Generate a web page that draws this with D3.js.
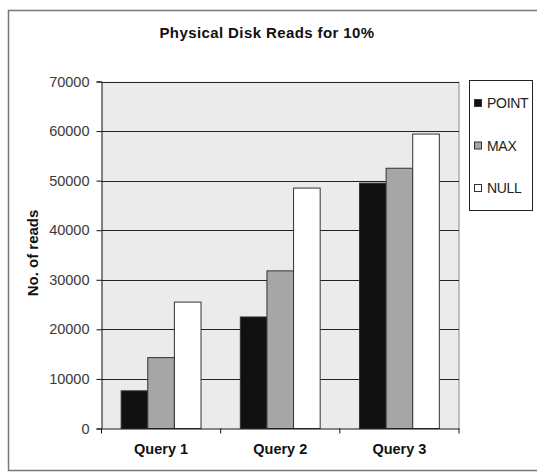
<!DOCTYPE html>
<html><head><meta charset="utf-8">
<script src="https://cdn.jsdelivr.net/npm/d3@7/dist/d3.min.js"></script>
<style>body{margin:0;background:#fff;}svg{display:block;font-family:"Liberation Sans",Arial,sans-serif;}</style>
</head><body><svg id="c" width="537" height="472"></svg>
<script>
const categories = ["Query 1", "Query 2", "Query 3"];
const seriesNames = ["POINT", "MAX", "NULL"];
const seriesColors = ["#111111", "#a6a6a6", "#ffffff"];
const pointValues = [7600, 22500, 49500];
const maxValues = [14300, 31800, 52500];
const nullValues = [25500, 48500, 59400];
const yTicks = [0, 10000, 20000, 30000, 40000, 50000, 60000, 70000];
const titleText = "Physical Disk Reads for 10%";
const yTitle = "No. of reads";

const series = [pointValues, maxValues, nullValues];
const svg = d3.select("#c");
const FF = "'Liberation Sans',Arial,sans-serif";

// outer border
svg.append("rect").attr("x", 8.5).attr("y", 10.5).attr("width", 540).attr("height", 460)
  .attr("fill", "#fff").attr("stroke", "#777").attr("stroke-width", 1.5);

const L = 101.5, R = 459, T = 81.5, B = 428.5;
const x = d3.scaleBand().domain(categories).range([L, R]).paddingInner(0.33).paddingOuter(0.165);
const xs = d3.scaleBand().domain(seriesNames).range([0, x.bandwidth()]);
const y = d3.scaleLinear().domain([0, 70000]).range([B, T]);

// plot background
svg.append("rect").attr("x", L).attr("y", T).attr("width", R - L).attr("height", B - T)
  .attr("fill", "#ebebeb");
svg.append("line").attr("x1", R).attr("x2", R).attr("y1", T).attr("y2", B).attr("stroke", "#888");

// gridlines
svg.append("g").selectAll("line").data(yTicks.filter(d => d > 0)).join("line")
  .attr("x1", L).attr("x2", R).attr("y1", d => Math.round(y(d)) + 0.5).attr("y2", d => Math.round(y(d)) + 0.5)
  .attr("stroke", "#222").attr("stroke-width", 1);

// bars
const groups = svg.append("g").selectAll("g").data(seriesNames).join("g")
  .attr("fill", (d, i) => seriesColors[i]);
groups.each(function(name, si) {
  d3.select(this).selectAll("rect").data(series[si]).join("rect")
    .attr("x", (d, i) => x(categories[i]) + xs(name))
    .attr("y", d => y(d))
    .attr("width", xs.bandwidth())
    .attr("height", d => B - y(d))
    .attr("stroke", "#333").attr("stroke-width", 1);
});

// y axis
const yAxis = d3.axisLeft(y).tickValues(yTicks).tickSize(5).tickPadding(7).tickFormat(d3.format("d"));
const yg = svg.append("g").attr("transform", `translate(${L},0)`).call(yAxis);
yg.select(".domain").attr("stroke", "#111");
yg.selectAll(".tick line").attr("stroke", "#111");
yg.selectAll("text").attr("font-size", 14.5).attr("fill", "#3a3a3a").attr("font-family", FF);

// x axis
const xAxis = d3.axisBottom(x).tickSize(0).tickPadding(0);
const xg = svg.append("g").attr("transform", `translate(0,${B})`).call(xAxis);
xg.select(".domain").attr("stroke", "#111");
xg.selectAll("text").attr("dy", "1.75em").attr("font-size", 14.5).attr("font-weight", "bold").attr("fill", "#111")
  .attr("font-family", FF);
const sepPositions = categories.map(c => x(c) - x.step() * x.paddingInner() / 2).concat([R]);
svg.append("g").selectAll("line").data(sepPositions).join("line")
  .attr("x1", d => d).attr("x2", d => d).attr("y1", B).attr("y2", B + 5).attr("stroke", "#111");

// title
svg.append("text").attr("x", 267).attr("y", 38).attr("text-anchor", "middle")
  .attr("font-size", 15).attr("font-weight", "bold").attr("fill", "#111").attr("letter-spacing", 0.4)
  .text(titleText);

// y title
svg.append("text").attr("transform", `translate(38,253) rotate(-90)`).attr("text-anchor", "middle")
  .attr("font-size", 15).attr("font-weight", "bold").attr("fill", "#111").text(yTitle);

// legend
const lg = svg.append("g");
lg.append("rect").attr("x", 469.5).attr("y", 80.5).attr("width", 63).attr("height", 130)
  .attr("fill", "#fff").attr("stroke", "#222");
const ly = d3.scalePoint().domain(seriesNames).range([103, 188]);
const items = lg.selectAll("g").data(seriesNames).join("g")
  .attr("transform", d => `translate(474,${ly(d)})`);
items.append("rect").attr("x", 0.5).attr("y", -3.5).attr("width", 7).attr("height", 7)
  .attr("fill", (d, i) => seriesColors[i]).attr("stroke", "#333");
items.append("text").attr("x", 13).attr("y", 0).attr("dy", "0.36em").attr("font-size", 14)
  .attr("fill", "#222").attr("letter-spacing", -0.3).text(d => d);
</script></body></html>
